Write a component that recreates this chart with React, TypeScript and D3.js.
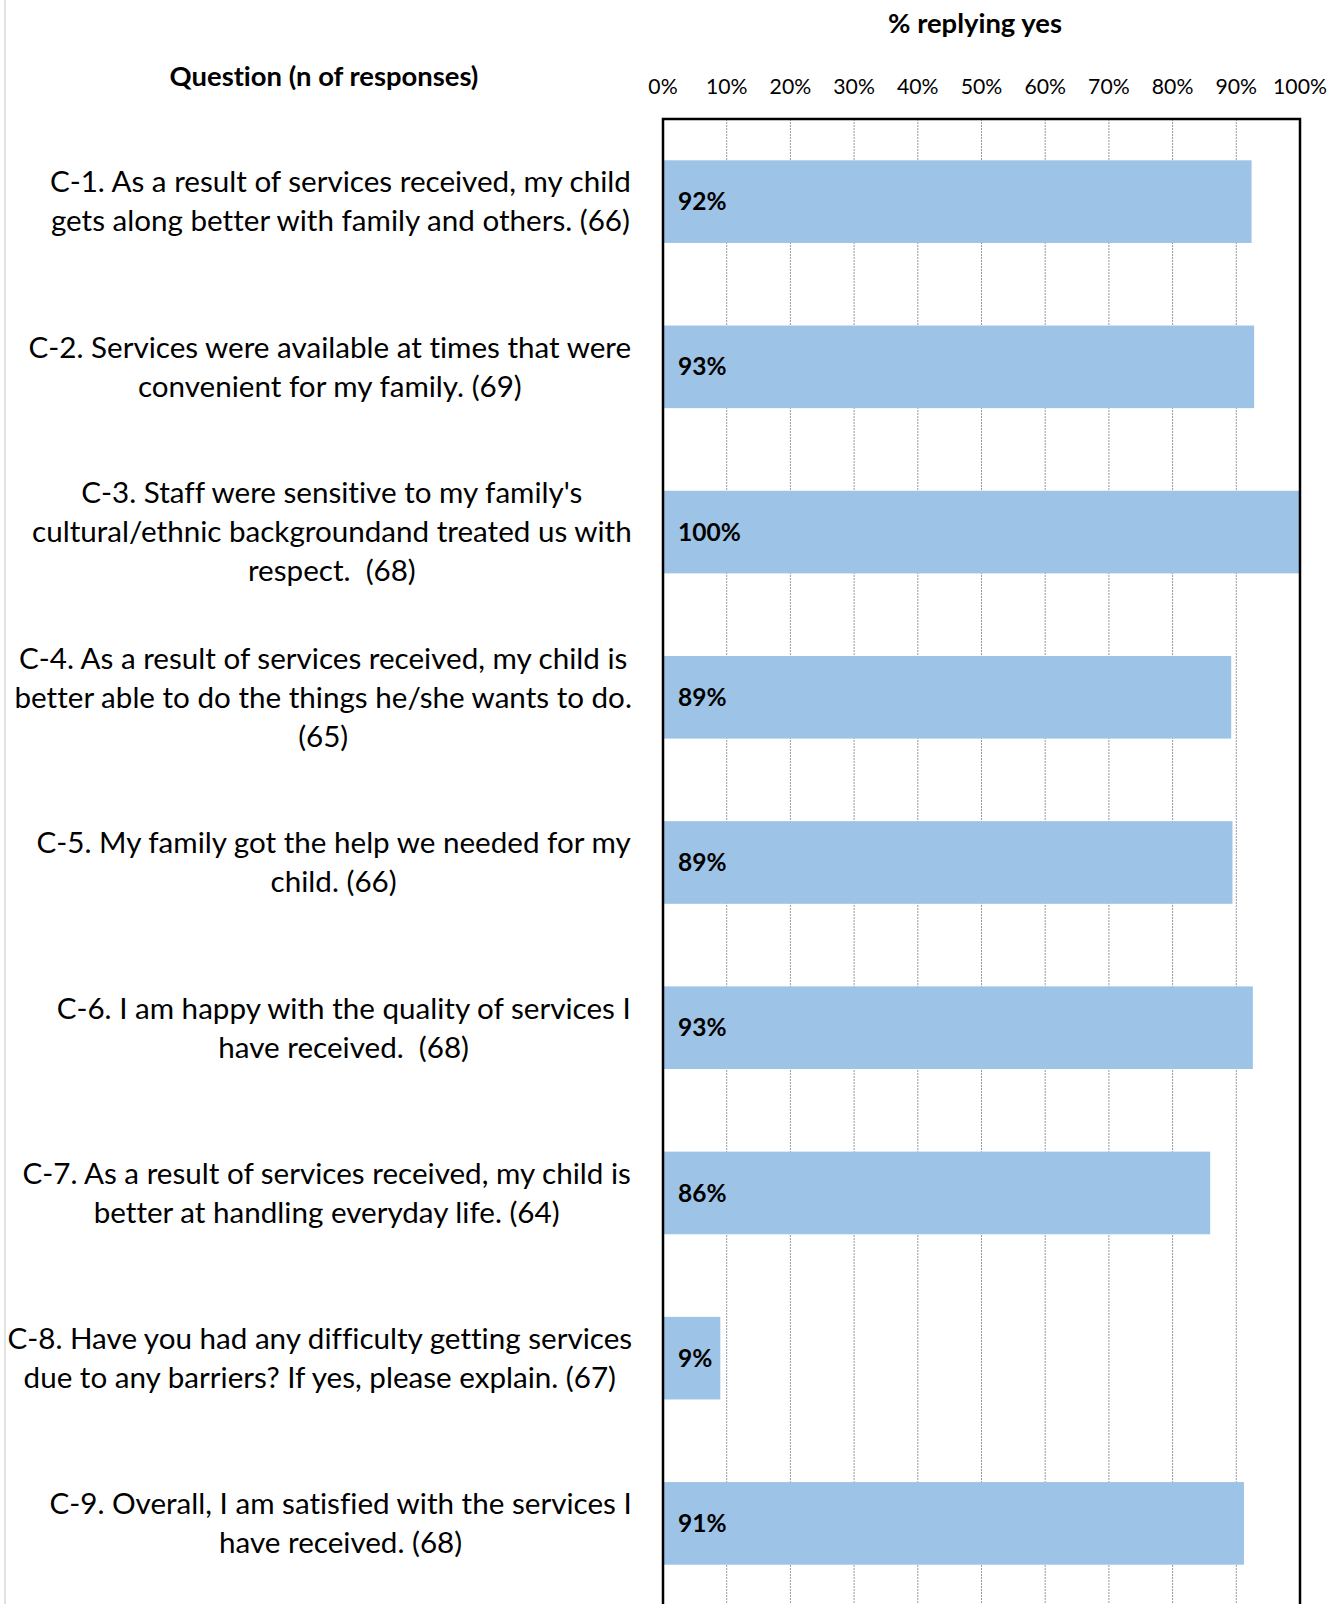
import React, { useMemo } from "react";
import * as d3 from "d3";

const categories = ["C-1", "C-2", "C-3", "C-4", "C-5", "C-6", "C-7", "C-8", "C-9"];
const labelLines: string[][] = [
  ["C-1. As a result of services received, my child", "gets along better with family and others. (66)"],
  ["C-2. Services were available at times that were", "convenient for my family. (69)"],
  ["C-3. Staff were sensitive to my family's", "cultural/ethnic backgroundand treated us with", "respect.  (68)"],
  ["C-4. As a result of services received, my child is", "better able to do the things he/she wants to do.", "(65)"],
  ["C-5. My family got the help we needed for my", "child. (66)"],
  ["C-6. I am happy with the quality of services I", "have received.  (68)"],
  ["C-7. As a result of services received, my child is", "better at handling everyday life. (64)"],
  ["C-8. Have you had any difficulty getting services", "due to any barriers? If yes, please explain. (67)"],
  ["C-9. Overall, I am satisfied with the services I", "have received. (68)"],
];
const values = [0.924, 0.928, 1.0, 0.892, 0.894, 0.926, 0.859, 0.09, 0.912];
const ticks = [0, 0.1, 0.2, 0.3, 0.4, 0.5, 0.6, 0.7, 0.8, 0.9, 1.0];
const axisTitle = "% replying yes";
const questionTitle = "Question (n of responses)";

const W = 1339;
const H = 1604;
const FONT = "Lato, 'Open Sans', sans-serif";
const LABEL_SIZE = 29.6;
const LINE_H = 39;

export default function App() {
  const x = d3.scaleLinear().domain([0, 1]).range([663, 1300]);
  const y = d3.scaleBand<string>().domain(categories).range([119, 119 + 1487]).paddingInner(0.5).paddingOuter(0.25);
  const fmt = d3.format(".0%");

  const widths = useMemo(() => {
    const c = document.createElement("canvas").getContext("2d")!;
    c.font = `${LABEL_SIZE}px Lato`;
    return labelLines.map((ls) => Math.max(...ls.map((l) => c.measureText(l).width)));
  }, []);

  const labelRight = 632;

  return (
    <svg
      width={W}
      height={H}
      style={{ position: "absolute", left: 0, top: 0, fontVariantLigatures: "none" }}
      fontFamily={FONT}
    >
      <rect x={0} y={0} width={W} height={H} fill="#fff" />
      <line x1={5} x2={5} y1={0} y2={H} stroke="#d9d9d9" strokeWidth={1.5} />
      <text x={975} y={33} textAnchor="middle" fontWeight="bold" fontSize={27.4} fill="#000">{axisTitle}</text>
      <text x={324} y={86} textAnchor="middle" fontWeight="bold" fontSize={27.4} fill="#000">{questionTitle}</text>
      {ticks.map((t) => (
        <text key={t} x={x(t)} y={94} textAnchor="middle" fontSize={21.2} fill="#000">{fmt(t)}</text>
      ))}
      {ticks.slice(1, -1).map((t) => (
        <line key={t} x1={x(t)} x2={x(t)} y1={119} y2={H} stroke="#9a9a9a" strokeWidth={1} strokeDasharray="2,1" />
      ))}
      {categories.map((c, i) => (
        <rect key={c} x={x(0)} y={y(c)!} width={x(values[i]) - x(0)} height={y.bandwidth()} fill="#9dc3e6" />
      ))}
      {categories.map((c, i) => (
        <text key={c} x={x(0) + 15} y={y(c)! + y.bandwidth() / 2} dy="0.35em" fontWeight="bold" fontSize={24.5} fill="#000">
          {fmt(values[i])}
        </text>
      ))}
      {categories.map((c, i) => {
        const lines = labelLines[i];
        const cx = labelRight - widths[i] / 2;
        const cy = y(c)! + y.bandwidth() / 2;
        const y0 = cy - ((lines.length - 1) * LINE_H) / 2;
        return (
          <text key={c} textAnchor="middle" fontSize={LABEL_SIZE} fill="#000" style={{ whiteSpace: "pre" }}>
            {lines.map((l, j) => (
              <tspan key={j} x={cx} y={y0 + j * LINE_H} dy="0.35em">{l}</tspan>
            ))}
          </text>
        );
      })}
      <rect x={x(0)} y={119} width={x(1) - x(0)} height={H + 10} fill="none" stroke="#000" strokeWidth={2.5} />
    </svg>
  );
}
